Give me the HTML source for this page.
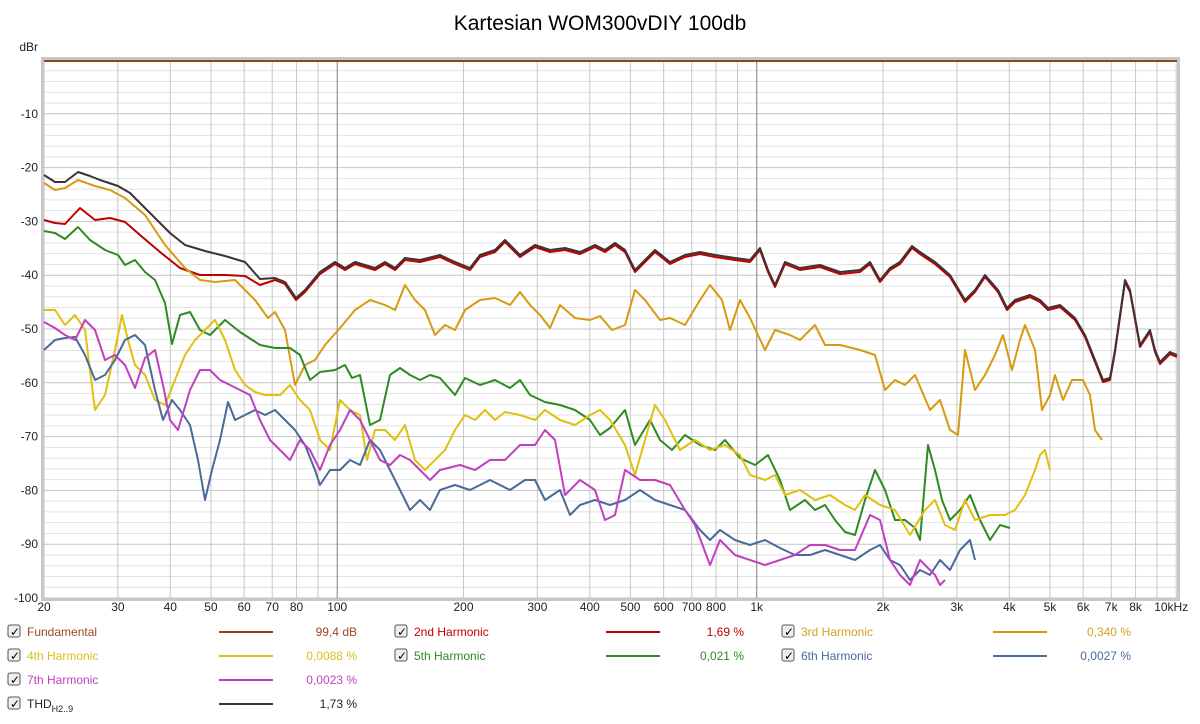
<!DOCTYPE html>
<html><head><meta charset="utf-8"><style>
body{margin:0;background:#fff;width:1200px;height:719px;overflow:hidden;font-family:"Liberation Sans",sans-serif}
</style></head><body>
<svg id="s" width="1200" height="719" xmlns="http://www.w3.org/2000/svg" font-family="Liberation Sans, sans-serif">
<rect width="1200" height="719" fill="#fff"/>
<text x="600" y="30" font-size="21" text-anchor="middle" fill="#000">Kartesian WOM300vDIY 100db</text>
<rect x="41" y="57" width="1139" height="544" fill="#c8c8c8"/>
<rect x="44" y="60" width="1133" height="538" fill="#fff"/>
<g id="grid"></g>
<g id="lbl" font-size="12" fill="#222"></g>
<line x1="44" y1="61" x2="1177" y2="61" stroke="#8b4a1e" stroke-width="2"/>
<g fill="none" stroke-width="2" stroke-linejoin="round">
<polyline id="red" stroke="#c00000"/>
<polyline stroke="#d89a10" points="44,183 55,190 65,188 78,180 95,186 110,190 125,198 145,215 165,245 185,268 200,280 215,282 235,280 255,300 268,318 275,312 285,330 295,385 305,365 315,360 325,345 340,328 355,310 370,300 385,305 395,310 405,285 415,300 425,310 435,335 445,325 455,330 465,310 480,300 495,298 510,305 520,292 530,305 540,315 550,328 560,305 575,318 590,320 600,316 612,330 625,325 635,290 645,300 660,320 670,318 685,325 700,300 710,285 722,300 730,330 740,300 750,318 765,350 775,330 790,335 800,340 815,325 825,345 840,345 860,350 875,355 885,390 895,380 905,385 915,375 930,410 940,400 950,430 958,435 965,350 975,390 985,375 995,355 1003,335 1012,370 1020,340 1025,325 1035,350 1042,410 1050,395 1055,375 1063,400 1072,380 1083,380 1090,395 1095,430 1102,440"/>
<polyline stroke="#2e8b22" points="44,231 55,233 65,239 78,227 90,240 105,250 118,255 125,265 135,260 145,272 155,280 165,303 172,344 180,315 190,312 200,330 210,335 225,320 240,332 260,345 275,348 290,348 300,355 310,380 320,372 335,370 345,365 352,378 360,375 370,425 380,420 390,375 400,368 410,375 420,380 430,375 440,378 455,395 465,378 480,385 495,380 510,388 520,380 530,395 545,402 560,405 575,410 590,420 600,435 610,428 625,410 635,445 650,420 660,440 672,450 685,435 700,445 715,450 725,440 740,458 755,465 768,455 780,480 790,510 805,500 815,510 825,505 835,520 845,532 855,535 865,500 875,470 885,490 895,520 905,520 915,528 920,540 928,445 935,470 942,500 950,520 960,510 970,495 980,520 990,540 1000,525 1010,528"/>
<polyline stroke="#e0c010" points="44,310 55,310 65,325 75,315 85,330 95,410 105,395 115,350 122,315 128,340 135,365 145,375 155,400 165,405 175,380 185,355 195,340 205,330 215,320 225,340 235,370 245,385 255,392 265,395 280,395 290,385 300,400 310,410 320,440 330,450 340,400 350,410 360,415 367,460 375,430 385,430 395,440 405,425 415,460 425,470 435,460 445,450 455,430 465,415 475,420 485,410 495,420 505,412 520,415 535,420 545,410 560,420 575,425 590,415 600,410 610,420 625,445 635,475 645,440 655,405 665,420 680,450 695,440 710,450 725,445 740,455 750,475 765,480 775,475 785,495 800,490 815,500 830,495 845,505 855,510 865,495 880,505 895,510 910,535 925,510 935,500 945,525 955,530 965,500 975,520 990,515 1005,515 1015,510 1025,495 1035,470 1040,455 1045,450 1050,470"/>
<polyline stroke="#4a6a9a" points="44,350 55,340 65,338 75,337 85,355 95,380 105,375 115,360 125,340 135,335 145,345 155,390 163,420 172,400 180,410 190,425 198,460 205,500 212,470 220,440 228,402 235,420 245,415 255,410 265,415 275,410 285,420 295,430 305,445 315,470 320,485 330,470 340,470 350,460 360,465 370,440 380,450 390,470 400,490 410,510 420,500 430,510 440,490 455,485 470,490 490,480 510,490 525,480 535,480 545,500 560,490 570,515 580,505 595,500 610,505 625,500 640,490 655,500 670,505 685,510 700,530 710,540 720,530 735,540 750,545 765,540 780,548 795,555 810,555 825,550 840,555 855,560 870,550 880,545 890,560 900,565 910,580 920,570 930,575 940,560 950,570 960,550 970,540 975,560"/>
<polyline stroke="#c040c0" points="44,322 55,328 65,335 75,340 85,320 95,330 105,360 115,355 125,365 135,388 145,358 155,350 163,385 170,420 178,430 190,390 200,370 210,370 220,380 230,385 240,390 250,395 260,420 270,440 280,450 290,460 300,440 310,450 320,470 330,445 340,430 350,410 360,420 370,440 380,460 390,465 400,455 410,460 420,470 430,480 440,470 460,465 475,470 490,460 505,460 520,445 535,445 545,430 555,440 565,495 580,480 595,490 605,520 615,515 625,470 640,480 655,480 670,485 685,510 695,525 710,565 720,540 735,555 750,560 765,565 780,560 795,555 810,545 825,545 840,550 855,550 870,515 880,520 890,560 900,575 910,585 920,560 935,575 940,585 945,580"/>
<polyline id="thd" stroke="#3c3434"/>
</g>
<g font-size="12" id="leg"></g>
</svg>
<script>
var NS="http://www.w3.org/2000/svg";
function el(p,t,a,txt){var e=document.createElementNS(NS,t);for(var k in a)e.setAttribute(k,a[k]);if(txt!=null)e.textContent=txt;p.appendChild(e);return e;}
var g=document.getElementById('grid'),L=document.getElementById('lbl');
function X(f){return 44+(Math.log10(f)-Math.log10(20))*419.5;}
for(var d=0;d<=100;d+=2){var y=60+d*5.38;var maj=d%10==0;el(g,'line',{x1:44,x2:1177,y1:y,y2:y,stroke:maj?'#c4c4c4':'#e2e2e2','stroke-width':1});
 if(maj&&d>0)el(L,'text',{x:38,y:y+4,'text-anchor':'end'},'-'+d);}
el(L,'text',{x:38,y:51,'text-anchor':'end'},'dBr');
var fs=[];for(var dec=10;dec<=10000;dec*=10)for(var m=1;m<10;m++){var f=dec*m;if(f>=20&&f<=10000)fs.push(f);}
fs.forEach(function(f){var x=X(f);var dk=(f==100||f==1000);el(g,'line',{x1:x,x2:x,y1:60,y2:598,stroke:dk?'#808080':'#c8c8c8','stroke-width':1});});
var tl={20:'20',30:'30',40:'40',50:'50',60:'60',70:'70',80:'80',100:'100',200:'200',300:'300',400:'400',500:'500',600:'600',700:'700',800:'800',1000:'1k',2000:'2k',3000:'3k',4000:'4k',5000:'5k',6000:'6k',7000:'7k',8000:'8k',10000:'10kHz'};
for(var k in tl)el(L,'text',{x:X(+k)+(k==10000?-5:0),y:611,'text-anchor':'middle'},tl[k]);
var thd=[[44,175],[55,182],[65,182],[78,172],[90,176],[100,180],[118,186],[130,193],[150,213],[170,233],[185,245],[205,251],[225,256],[245,262],[260,279],[275,278],[285,282],[296,298],[305,290],[320,272],[335,262],[345,268],[355,262],[375,268],[385,262],[395,268],[405,258],[420,260],[440,255],[455,262],[470,268],[480,255],[495,250],[505,240],[510,245],[520,255],[535,245],[550,250],[565,248],[580,252],[595,245],[605,250],[615,243],[625,250],[635,270],[645,260],[655,250],[670,262],[685,255],[700,252],[715,255],[735,258],[750,260],[760,248],[768,270],[775,285],[785,262],[800,268],[820,265],[840,272],[860,270],[870,262],[880,280],[890,268],[900,262],[912,246],[920,252],[935,262],[950,275],[965,300],[975,290],[985,275],[998,290],[1007,308],[1015,300],[1030,295],[1040,300],[1048,308],[1060,305],[1075,318],[1085,335],[1095,360],[1103,380],[1110,378],[1115,350],[1125,280],[1130,290],[1140,345],[1150,330],[1155,350],[1160,362],[1170,352],[1177,355]];
document.getElementById('thd').setAttribute('points',thd.map(function(p){return p.join(',')}).join(' '));
var red=[[44,220],[55,223],[65,224],[80,208],[95,220],[110,218],[125,222],[140,235],[160,252],[180,268],[200,275],[225,275],[245,276],[260,285]];
thd.forEach(function(p){if(p[0]>=275)red.push([p[0],p[1]+2]);});
document.getElementById('red').setAttribute('points',red.map(function(p){return p.join(',')}).join(' '));
var lg=document.getElementById('leg');
var items=[['Fundamental','#8b4a1e','99,4 dB',0,0],['2nd Harmonic','#c00000','1,69 %',1,0],['3rd Harmonic','#d89a10','0,340 %',2,0],
['4th Harmonic','#e0c010','0,0088 %',0,1],['5th Harmonic','#2e8b22','0,021 %',1,1],['6th Harmonic','#4a6a9a','0,0027 %',2,1],
['7th Harmonic','#c040c0','0,0023 %',0,2],['THD','#3c3434','1,73 %',0,3]];
var lc={'Fundamental':'#9a4a20','4th Harmonic':'#d8c020','THD':'#222','3rd Harmonic':'#d8a020','6th Harmonic':'#4a6a9a'};
items.forEach(function(it){var ox=it[3]*387,y=632+it[4]*24;
 el(lg,'rect',{x:ox+8,y:y-7,width:12,height:12,rx:2,fill:'#eee',stroke:'#555'});
 el(lg,'text',{x:ox+10,y:y+4,'font-size':12,fill:'#000'},'✓');
 var t=el(lg,'text',{x:ox+27,y:y+4,fill:lc[it[0]]||it[1]},it[0]);
 if(it[0]=='THD'){var s=el(t,'tspan',{dy:4,'font-size':9},'H2..9');}
 el(lg,'line',{x1:ox+219,x2:ox+273,y1:y,y2:y,stroke:it[1],'stroke-width':2});
 el(lg,'text',{x:ox+357,y:y+4,'text-anchor':'end',fill:lc[it[0]]||it[1]},it[2]);});
</script>
</body></html>
